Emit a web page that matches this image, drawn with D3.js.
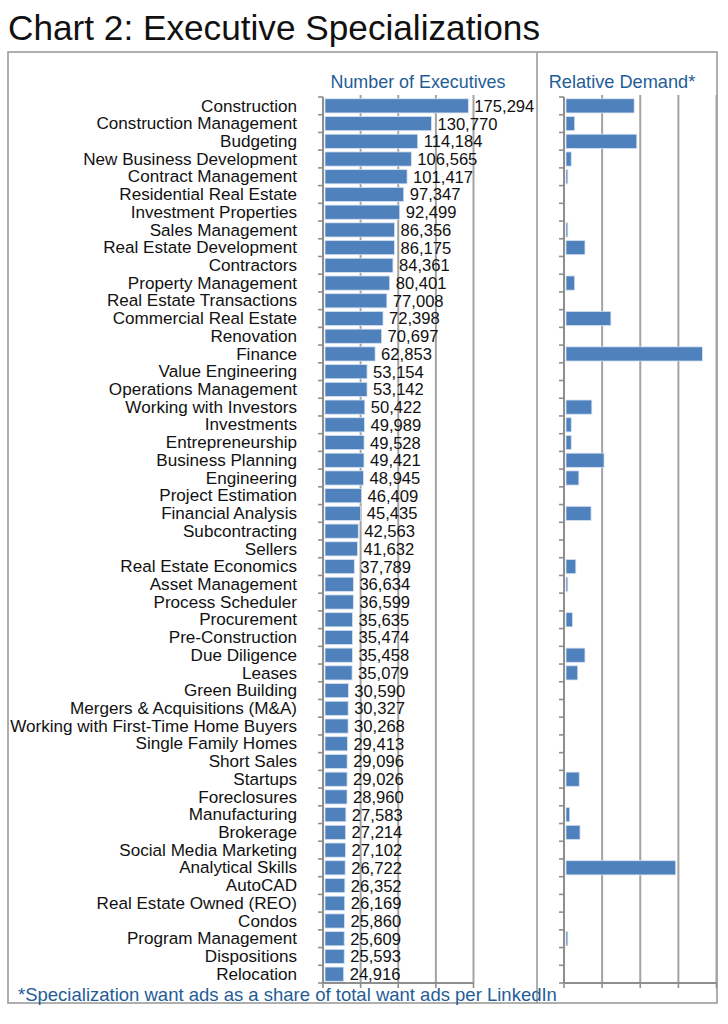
<!DOCTYPE html>
<html>
<head>
<meta charset="utf-8">
<script src="https://cdn.jsdelivr.net/npm/d3@7"></script>
<style>
  html, body { margin: 0; padding: 0; background: #fff; }
  svg { display: block; }
  text { font-family: "Liberation Sans", Arial, Helvetica, sans-serif; }
</style>
</head>
<body>
<svg id="chart" width="728" height="1024"></svg>
<script>
const categories = [
  "Construction", "Construction Management", "Budgeting", "New Business Development",
  "Contract Management", "Residential Real Estate", "Investment Properties", "Sales Management",
  "Real Estate Development", "Contractors", "Property Management", "Real Estate Transactions",
  "Commercial Real Estate", "Renovation", "Finance", "Value Engineering",
  "Operations Management", "Working with Investors", "Investments", "Entrepreneurship",
  "Business Planning", "Engineering", "Project Estimation", "Financial Analysis",
  "Subcontracting", "Sellers", "Real Estate Economics", "Asset Management",
  "Process Scheduler", "Procurement", "Pre-Construction", "Due Diligence",
  "Leases", "Green Building", "Mergers & Acquisitions (M&A)", "Working with First-Time Home Buyers",
  "Single Family Homes", "Short Sales", "Startups", "Foreclosures",
  "Manufacturing", "Brokerage", "Social Media Marketing", "Analytical Skills",
  "AutoCAD", "Real Estate Owned (REO)", "Condos", "Program Management",
  "Dispositions", "Relocation"
];

const executives = [
  175294, 130770, 114184, 106565, 101417, 97347, 92499, 86356,
  86175, 84361, 80401, 77008, 72398, 70697, 62853, 53154,
  53142, 50422, 49989, 49528, 49421, 48945, 46409, 45435,
  42563, 41632, 37789, 36634, 36599, 35635, 35474, 35458,
  35079, 30590, 30327, 30268, 29413, 29096, 29026, 28960,
  27583, 27214, 27102, 26722, 26352, 26169, 25860, 25609,
  25593, 24916
];

// relative demand (in units of one gridline interval, estimated)
const demand = [
  1.84, 0.28, 1.91, 0.19, 0.10, 0, 0, 0.10,
  0.55, 0, 0.28, 0, 1.23, 0, 3.63, 0,
  0, 0.73, 0.19, 0.19, 1.05, 0.39, 0, 0.71,
  0, 0, 0.31, 0.10, 0, 0.22, 0, 0.55,
  0.36, 0, 0, 0, 0, 0, 0.40, 0,
  0.15, 0.42, 0, 2.93, 0, 0, 0, 0.10,
  0, 0
];

const titleText = "Chart 2: Executive Specializations";
const leftHeader = "Number of Executives";
const rightHeader = "Relative Demand*";
const footnote = "*Specialization want ads as a share of total want ads per LinkedIn";

const leftMax = 181500;
const rightMax = 4;

const svg = d3.select("#chart");
const blue = "#4f81bd";
const gridCol = "#a3a3a3";
const axisCol = "#8e8e8e";
const headCol = "#1f5d97";

const yTop = 97, yBot = 983;
const y = d3.scaleBand().domain(categories).range([yTop, yBot]).paddingInner(0.2).paddingOuter(0.1);
const yIdx = d3.scaleLinear().domain([0, categories.length]).range([yTop, yBot]);

const xL = d3.scaleLinear().domain([0, leftMax]).range([323, 473.5]);
const xR = d3.scaleLinear().domain([0, rightMax]).range([564, 716.5]);

// title
svg.append("text").attr("x", 8).attr("y", 40)
  .attr("font-size", 35.2).attr("fill", "#111").text(titleText);

// frame
svg.append("rect").attr("x", 8).attr("y", 52).attr("width", 709).attr("height", 951)
  .attr("fill", "none").attr("stroke", "#9c9c9c").attr("stroke-width", 1.6);
svg.append("line").attr("x1", 537).attr("x2", 537).attr("y1", 52).attr("y2", 1003)
  .attr("stroke", "#9c9c9c").attr("stroke-width", 1.6);

function panel(xs, values, maxV, withLabels) {
  const g = svg.append("g");
  const ticks = d3.range(0, 5).map(i => i * maxV / 4);
  // gridlines
  g.selectAll(".grid").data(ticks.slice(1)).join("line")
    .attr("x1", d => xs(d)).attr("x2", d => xs(d))
    .attr("y1", yTop - 2).attr("y2", yBot)
    .attr("stroke", gridCol).attr("stroke-width", 2);
  // bars
  g.selectAll(".bar").data(categories).join("rect")
    .attr("x", xs(0) + 2)
    .attr("y", d => y(d))
    .attr("height", y.bandwidth())
    .attr("width", (d, i) => values[i] > 0 ? Math.max(1, xs(values[i]) - xs(0) - 2) : 0)
    .attr("fill", blue)
    .attr("stroke", "#d6e2f0").attr("stroke-width", 0.8);
  // left axis
  g.append("line").attr("x1", xs(0)).attr("x2", xs(0)).attr("y1", yTop).attr("y2", yBot)
    .attr("stroke", axisCol).attr("stroke-width", 2);
  g.selectAll(".ytick").data(d3.range(0, categories.length + 1)).join("line")
    .attr("x1", xs(0) - 5).attr("x2", xs(0))
    .attr("y1", d => yIdx(d)).attr("y2", d => yIdx(d))
    .attr("stroke", axisCol).attr("stroke-width", 1.6);
  // bottom axis
  g.append("line").attr("x1", xs(0)).attr("x2", xs(maxV)).attr("y1", yBot).attr("y2", yBot)
    .attr("stroke", axisCol).attr("stroke-width", 2);
  g.selectAll(".xtick").data(ticks).join("line")
    .attr("x1", d => xs(d)).attr("x2", d => xs(d))
    .attr("y1", yBot).attr("y2", yBot + 5)
    .attr("stroke", axisCol).attr("stroke-width", 1.6);
  if (withLabels) {
    g.selectAll(".val").data(categories).join("text")
      .attr("x", (d, i) => xs(values[i]) + 6)
      .attr("y", d => y(d) + y.bandwidth() / 2)
      .attr("dy", "0.36em")
      .attr("font-size", 16.6).attr("fill", "#111")
      .text((d, i) => d3.format(",")(values[i]));
  }
}

panel(xL, executives, leftMax, true);
panel(xR, demand, rightMax, false);

// category labels
svg.append("g").selectAll("text").data(categories).join("text")
  .attr("x", 297)
  .attr("y", d => y(d) + y.bandwidth() / 2 - 0.5)
  .attr("dy", "0.36em")
  .attr("text-anchor", "end")
  .attr("font-size", 17.1).attr("fill", "#111")
  .text(d => d);

// headers
svg.append("text").attr("x", 418).attr("y", 88).attr("text-anchor", "middle")
  .attr("font-size", 17.9).attr("fill", headCol).text(leftHeader);
svg.append("text").attr("x", 622).attr("y", 88).attr("text-anchor", "middle")
  .attr("font-size", 18.2).attr("fill", headCol).text(rightHeader);

// footnote
svg.append("text").attr("x", 18).attr("y", 1000.5)
  .attr("font-size", 18.5).attr("fill", headCol).text(footnote);
</script>
</body>
</html>
